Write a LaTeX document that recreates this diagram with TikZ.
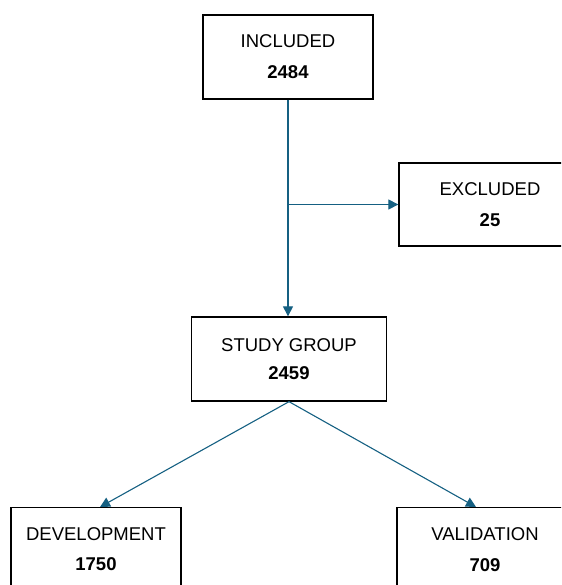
\documentclass[tikz,border=0pt]{standalone}
\usepackage{fontspec}
\setmainfont{Liberation Sans}
\usetikzlibrary{arrows.meta, positioning, calc}
\definecolor{flowteal}{RGB}{21,96,130}

\begin{document}
\begin{tikzpicture}[x=1pt, y=-1pt,
  countbox/.style={draw, line width=1.3pt, align=center, inner sep=0pt, minimum height=84pt, font=\fontsize{18.5}{22}\selectfont},
  flowarrow/.style={draw=flowteal, line width=1.1pt, -{Triangle[length=10pt,width=10pt]}}]
\clip (0,0) rectangle (561,585);

\node[countbox, minimum width=170pt] (included) at (288,57) {\raisebox{-4pt}{INCLUDED}\\[9pt]\raisebox{-4pt}{\textbf{2484}}};

\node[countbox, minimum width=182pt, minimum height=83pt] (excluded) at (490,204.5) {EXCLUDED\\[9pt]\textbf{25}};

\node[countbox, minimum width=195pt] (study) at (289,359) {STUDY GROUP\\[6pt]\textbf{2459}};

\node[countbox, minimum width=170pt, minimum height=83pt, anchor=north] (devel) at (96,507) {DEVELOPMENT\\[8pt]\textbf{1750}};

\node[countbox, minimum width=176pt, minimum height=83pt, anchor=north] (valid) at (485,507) {VALIDATION\\[9pt]\textbf{709}};

% arrows
\coordinate (split) at (included.south |- excluded.west);
\draw[flowarrow] (included.south) -- (included.south |- study.north);
\draw[flowarrow] (split) -- (excluded.west);
\draw[flowarrow] (study.south) -- ([xshift=4pt]devel.north);
\draw[flowarrow] (study.south) -- ([xshift=-9pt]valid.north);
\end{tikzpicture}
\end{document}
